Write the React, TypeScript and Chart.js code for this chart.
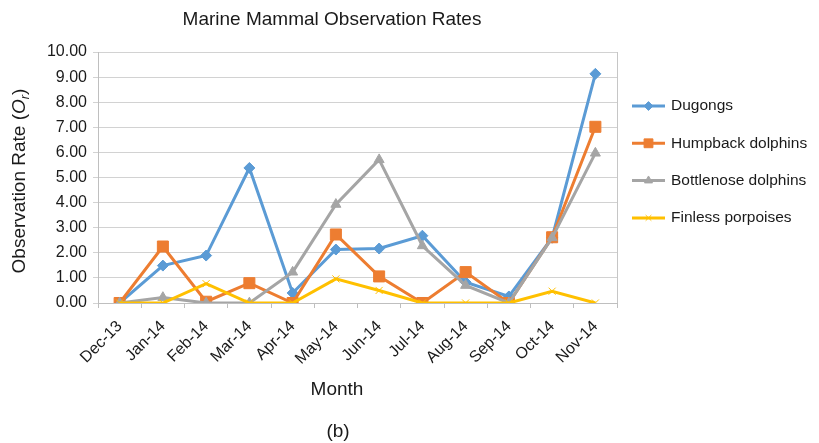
import { useEffect, useRef } from 'react';
import { Chart, registerables } from 'chart.js';
import type { Plugin } from 'chart.js';
import { drawPoint } from 'chart.js/helpers';

Chart.register(...registerables);

const FONT = '"Liberation Sans", Arial, Helvetica, sans-serif';
const TEXT = '#1a1a1a';

const months = ['Dec-13', 'Jan-14', 'Feb-14', 'Mar-14', 'Apr-14', 'May-14', 'Jun-14', 'Jul-14', 'Aug-14', 'Sep-14', 'Oct-14', 'Nov-14'];

const dugongs = [0, 1.49, 1.89, 5.38, 0.4, 2.13, 2.17, 2.68, 0.83, 0.26, 2.6, 9.13];
const humpback = [0, 2.25, 0.05, 0.79, 0, 2.73, 1.06, 0, 1.23, 0, 2.62, 7.02];
const bottlenose = [0, 0.22, 0, 0, 1.23, 3.93, 5.71, 2.28, 0.7, 0, 2.6, 5.97];
const finless = [0, 0, 0.77, 0, 0, 0.96, 0.5, 0, 0, 0, 0.47, 0];

const seriesNames = ['Dugongs', 'Humpback dolphins', 'Bottlenose dolphins', 'Finless porpoises'];
const seriesColors = ['#5B9BD5', '#ED7D31', '#A5A5A5', '#FFC000'];

const chartTitle = 'Marine Mammal Observation Rates';
const xTitle = 'Month';
const caption = '(b)';

// titles, legend and plot border drawn by hand (Excel look)
const decorPlugin: Plugin<'line'> = {
  id: 'decor',
  afterDraw(chart) {
    const { ctx, chartArea } = chart;
    ctx.save();

    // right edge of plot area
    ctx.strokeStyle = '#c6c6c6';
    ctx.lineWidth = 1;
    ctx.beginPath();
    ctx.moveTo(Math.round(chartArea.right) + 0.5, chartArea.top);
    ctx.lineTo(Math.round(chartArea.right) + 0.5, chartArea.bottom);
    ctx.stroke();

    ctx.fillStyle = TEXT;
    ctx.textBaseline = 'middle';
    ctx.textAlign = 'center';
    ctx.font = `19px ${FONT}`;
    ctx.fillText(chartTitle, 332, 20);
    ctx.fillText(xTitle, 337, 390);
    ctx.fillText(caption, 338, 432);

    // y title with italic O sub r
    ctx.save();
    ctx.translate(20, 181);
    ctx.rotate(-Math.PI / 2);
    ctx.textAlign = 'left';
    const parts = [
      { t: 'Observation Rate (', f: `19px ${FONT}`, dy: 0 },
      { t: 'O', f: `italic 19px ${FONT}`, dy: 0 },
      { t: 'r', f: `italic 13px ${FONT}`, dy: 5 },
      { t: ')', f: `19px ${FONT}`, dy: 0 },
    ];
    let total = 0;
    parts.forEach((p) => {
      ctx.font = p.f;
      total += ctx.measureText(p.t).width;
    });
    let x = -total / 2;
    parts.forEach((p) => {
      ctx.font = p.f;
      ctx.fillText(p.t, x, p.dy);
      x += ctx.measureText(p.t).width;
    });
    ctx.restore();

    // legend
    ctx.textAlign = 'left';
    ctx.font = `15.5px ${FONT}`;
    chart.data.datasets.forEach((ds: any, i) => {
      const y = 106 + i * 37.3;
      ctx.strokeStyle = ds.borderColor;
      ctx.lineWidth = 3;
      ctx.beginPath();
      ctx.moveTo(632, y);
      ctx.lineTo(665, y);
      ctx.stroke();
      ctx.fillStyle = ds.pointBackgroundColor;
      ctx.strokeStyle = ds.pointBorderColor;
      ctx.lineWidth = ds.pointBorderWidth ?? 1;
      drawPoint(ctx, { pointStyle: ds.pointStyle, radius: ds.pointRadius * 0.8, rotation: 0, borderWidth: ds.pointBorderWidth ?? 1 }, 648.5, y);
      ctx.fillStyle = TEXT;
      ctx.fillText(ds.label, 671, y);
    });

    ctx.restore();
  },
};

export default function App() {
  const canvasRef = useRef<HTMLCanvasElement | null>(null);

  useEffect(() => {
    const canvas = canvasRef.current;
    if (!canvas) return;

    const values = [dugongs, humpback, bottlenose, finless];
    const styles = ['rectRot', 'rect', 'triangle', 'crossRot'];
    const radii = [5.5, 7.8, 5.8, 5];

    const chart = new Chart(canvas, {
      type: 'line',
      data: {
        labels: months,
        datasets: seriesNames.map((name, i) => ({
          label: name,
          data: values[i],
          borderColor: seriesColors[i],
          backgroundColor: seriesColors[i],
          pointBackgroundColor: seriesColors[i],
          pointBorderColor: seriesColors[i],
          pointBorderWidth: 1,
          pointStyle: styles[i] as any,
          pointRadius: radii[i],
          borderWidth: 3,
          tension: 0,
          order: 4 - i,
        })),
      },
      options: {
        animation: false,
        responsive: true,
        maintainAspectRatio: false,
        layout: { padding: { left: 0, top: 52, right: 202, bottom: 0 } },
        plugins: {
          legend: { display: false },
          title: { display: false },
          tooltip: { enabled: false },
        },
        scales: {
          x: {
            offset: true,
            grid: { offset: true, drawOnChartArea: false, color: '#bfbfbf', tickLength: 5 },
            border: { color: '#bfbfbf' },
            ticks: {
              autoSkip: false,
              minRotation: 45,
              maxRotation: 45,
              padding: 9,
              color: TEXT,
              font: { family: FONT, size: 16 },
            },
            afterFit: (scale) => {
              scale.height = 140;
            },
          },
          y: {
            min: 0,
            max: 10,
            grid: { color: '#d2d2d2', tickLength: 5 },
            border: { color: '#bfbfbf' },
            ticks: {
              stepSize: 1,
              padding: 6,
              color: TEXT,
              font: { family: FONT, size: 16 },
              callback: (value) => Number(value).toFixed(2),
            },
            afterFit: (scale) => {
              scale.width = 98;
            },
          },
        },
      },
      plugins: [decorPlugin],
    });

    return () => {
      chart.destroy();
    };
  }, []);

  return (
    <div style={{ position: 'fixed', left: 0, top: 0, width: 819, height: 443, background: '#fff' }}>
      <canvas ref={canvasRef} />
    </div>
  );
}
